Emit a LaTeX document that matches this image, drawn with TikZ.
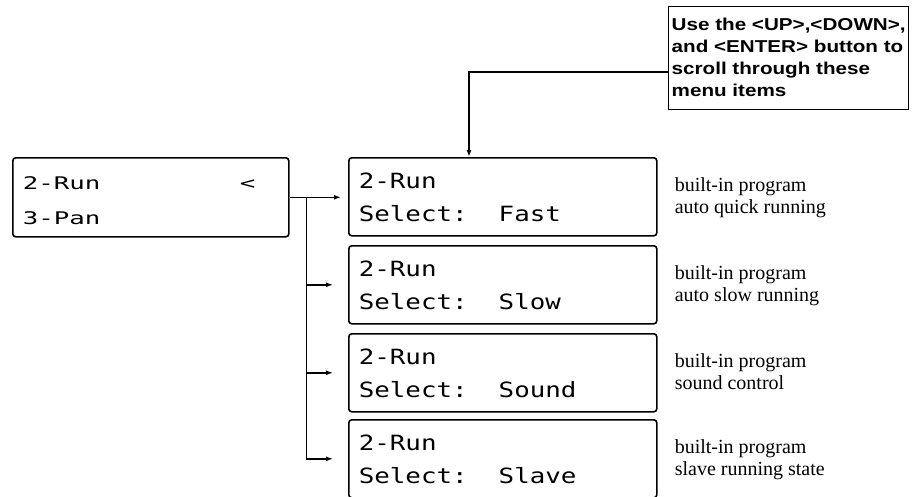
\documentclass[tikz,border=0pt]{standalone}
\usepackage{fontspec}
\setmainfont{Liberation Serif}
\newfontfamily\lcdA[FakeStretch=1.48]{DejaVu Sans Mono}
\newfontfamily\lcdB[FakeStretch=1.23]{DejaVu Sans Mono}
\newfontfamily\notefont[FakeStretch=1.2]{Liberation Sans}
\newcommand\lsp{\hphantom{0}}
\usetikzlibrary{arrows.meta,calc}
\begin{document}
\begin{tikzpicture}[x=1pt,y=-1pt,
  lcdbox/.style={draw, line width=1.6pt, rounded corners=3pt, anchor=north west,
    inner xsep=10pt, inner ysep=0pt, align=left},
  menubox/.style={lcdbox, text width=256pt, text height=32pt, text depth=47pt,
    font=\lcdA\fontsize{17.4}{35}\selectfont},
  selbox/.style={lcdbox, text width=288pt, text height=31pt, text depth=47pt,
    font=\lcdB\fontsize{21}{33}\selectfont},
  desc/.style={anchor=north west, inner sep=0pt, align=left, text height=56pt,
    text depth=6pt, font=\fontsize{20}{22}\selectfont},
  notebox/.style={draw, line width=1.4pt, anchor=north west, inner xsep=3pt,
    inner ysep=0pt, minimum width=240pt, align=left, text height=90pt, text depth=13pt,
    font=\notefont\bfseries\fontsize{17.2}{22}\selectfont},
  arr/.style={line width=1.4pt, -{Latex[length=7pt,width=5pt]}}]
\useasboundingbox (0,0) rectangle (922,496);

\node[menubox] (menu) at (12,157) {2-Run\lsp\lsp\lsp\lsp\lsp\lsp\lsp\lsp\lsp<\\3-Pan};

\node[selbox] (b1) at (348,157) {2-Run\\Select:\lsp\lsp Fast};
\node[selbox] (b2) at (348,245) {2-Run\\Select:\lsp\lsp Slow};
\node[selbox] (b3) at (348,333) {2-Run\\Select:\lsp\lsp Sound};
\node[selbox] (b4) at (348,419) {2-Run\\Select:\lsp\lsp Slave};

\node[desc] (d1) at ($(b1.north east)+(17,0)$) {built-in program\\auto quick running};
\node[desc] (d2) at ($(b2.north east)+(17,0)$) {built-in program\\auto slow running};
\node[desc] (d3) at ($(b3.north east)+(17,0)$) {built-in program\\sound control};
\node[desc] (d4) at ($(b4.north east)+(17,0)$) {built-in program\\slave running state};

\node[notebox] (note) at (668,6) {Use the <UP>,<DOWN>,\\and <ENTER> button to\\scroll through these\\menu items};

\coordinate (j) at ($(menu.east)+(17,0)$);
\draw[arr, shorten >=7pt] (menu.east) -- (menu.east -| b1.west);
\draw[arr, shorten >=15pt] (j) |- (b4.west);
\draw[arr, shorten >=15pt] (j |- b2.west) -- (b2.west);
\draw[arr, shorten >=15pt] (j |- b3.west) -- (b3.west);
\coordinate (nl) at (note.west |- 0,72);
\draw[arr] (nl) -| ($(b1.north west)+(121,0)$);
\end{tikzpicture}
\end{document}
